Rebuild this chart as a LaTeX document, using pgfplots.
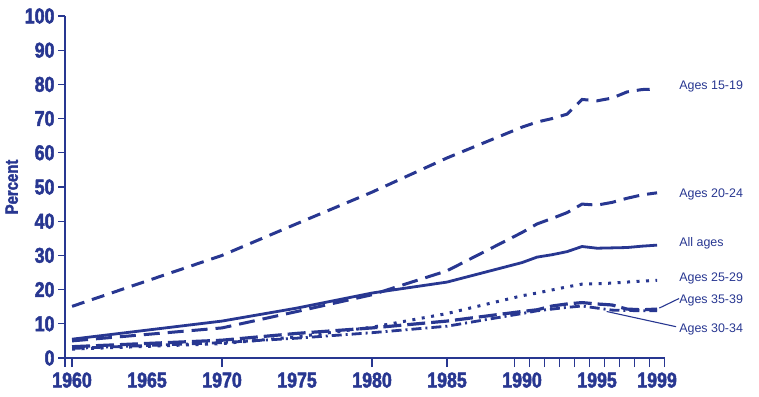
\documentclass[border=0pt]{standalone}
\usepackage{pgfplots}
\pgfplotsset{compat=1.18}
\usepackage{fontspec}
\setmainfont{Liberation Sans}
\newfontfamily\condfont[FakeStretch=0.83,BoldFeatures={FakeBold=2.2}]{Liberation Sans}
\definecolor{navy}{RGB}{40,55,145}
\begin{document}
\begin{tikzpicture}
\begin{axis}[
  at={(65bp,39bp)}, anchor=south west,
  scale only axis, width=600bp, height=342bp,
  xmin=1959.53, xmax=1999.53, ymin=0, ymax=100,
  axis x line*=bottom, axis y line*=left,
  axis line style={navy, line width=1.6bp},
  clip=false,
  tick align=outside,
  ytick={0,10,...,100},
  xtick={1960,1965,1970,1975,1980,1985,1990,1995,1999},
  xticklabels={1960,1965,1970,1975,1980,1985,1990,1995,1999},
  minor xtick={1960,1970,1980,1985,1989.5,1990.5,1991.5,1992.5,1993.5,1994.5,1995.5,1996.5,1997.5,1998.5,1999.5},
  major tick length=7bp, minor tick length=9bp,
  every major x tick/.style={draw=none},
  every minor x tick/.style={navy, line width=1.3bp},
  every major y tick/.style={navy, line width=1.3bp},
  /pgf/number format/assume math mode=true,
  ticklabel style={font=\condfont\bfseries\fontsize{21.5}{21.5}\selectfont, text=navy},
  xticklabel style={yshift=-4bp},
  ylabel={\condfont\bfseries\fontsize{18}{18}\selectfont Percent},
  ylabel style={text=navy, xshift=0bp},
]
\draw[navy, line width=1.6bp] (rel axis cs:0,0) -- ([yshift=-9bp]rel axis cs:0,0);

% Ages 15-19
\addplot[navy, line width=3bp, dash pattern=on 13bp off 8bp] coordinates {
(1960,15.1) (1970,30.0) (1975,39.3) (1980,48.5) (1985,58.5) (1990,67.5) (1991,69.0)
(1992,70.0) (1993,71.3) (1994,75.6) (1995,75.2) (1996,76.0) (1997,77.8) (1998,78.5) (1999,78.6)};
% Ages 20-24
\addplot[navy, line width=3bp, dash pattern=on 16bp off 8bp] coordinates {
(1960,5.0) (1970,8.8) (1975,13.6) (1980,18.5) (1985,25.5) (1990,36.7) (1991,39.2)
(1992,40.8) (1993,42.5) (1994,45.0) (1995,44.7) (1996,45.5) (1997,46.7) (1998,47.7) (1999,48.3)};
% All ages
\addplot[navy, line width=2.8bp] coordinates {
(1960,5.5) (1970,10.8) (1975,14.6) (1980,19.0) (1985,22.2) (1990,27.9) (1991,29.5)
(1992,30.2) (1993,31.1) (1994,32.6) (1995,32.1) (1996,32.2) (1997,32.3) (1998,32.7) (1999,33.0)};
% Ages 25-29
\addplot[navy, line width=3bp, dash pattern=on 3bp off 6.5bp] coordinates {
(1960,2.6) (1970,4.2) (1975,6.2) (1980,9.0) (1985,13.0) (1990,18.2) (1991,19.0)
(1992,19.9) (1993,20.8) (1994,21.6) (1995,21.7) (1996,21.9) (1997,22.2) (1998,22.5) (1999,22.7)};
% Ages 35-39
\addplot[navy, line width=3.2bp, dash pattern=on 18bp off 6bp] coordinates {
(1960,3.3) (1970,5.2) (1975,7.2) (1980,8.8) (1985,10.8) (1990,13.6) (1991,14.1)
(1992,15.2) (1993,15.8) (1994,16.2) (1995,15.8) (1996,15.5) (1997,14.3) (1998,14.1) (1999,14.3)};
% Ages 30-34
\addplot[navy, line width=2.8bp, dash pattern=on 10bp off 4bp on 2bp off 4bp] coordinates {
(1960,2.8) (1970,4.5) (1975,5.8) (1980,7.4) (1985,9.3) (1990,13.0) (1991,13.8)
(1992,14.3) (1993,14.8) (1994,15.2) (1995,14.6) (1996,14.0) (1997,13.9) (1998,13.8) (1999,13.8)};

\draw[navy, line width=1.1bp] (axis cs:2000.47,17.4) -- (axis cs:1999.15,14.6);
\draw[navy, line width=1.1bp] (axis cs:2000.27,9.15) -- (axis cs:1995.64,13.6);

\node[anchor=base west, inner sep=0pt, text=navy, font=\fontsize{12.5}{12.5}\selectfont] at (axis cs:2000.47,78.5) {Ages 15-19};
\node[anchor=base west, inner sep=0pt, text=navy, font=\fontsize{12.5}{12.5}\selectfont] at (axis cs:2000.47,46.9) {Ages 20-24};
\node[anchor=base west, inner sep=0pt, text=navy, font=\fontsize{12.5}{12.5}\selectfont] at (axis cs:2000.47,32.6) {All ages};
\node[anchor=base west, inner sep=0pt, text=navy, font=\fontsize{12.5}{12.5}\selectfont] at (axis cs:2000.47,22.4) {Ages 25-29};
\node[anchor=base west, inner sep=0pt, text=navy, font=\fontsize{12.5}{12.5}\selectfont] at (axis cs:2000.47,15.9) {Ages 35-39};
\node[anchor=base west, inner sep=0pt, text=navy, font=\fontsize{12.5}{12.5}\selectfont] at (axis cs:2000.47,7.5) {Ages 30-34};
\end{axis}
\pgfresetboundingbox
\useasboundingbox (0,0) rectangle (759bp,397bp);
\end{tikzpicture}
\end{document}
